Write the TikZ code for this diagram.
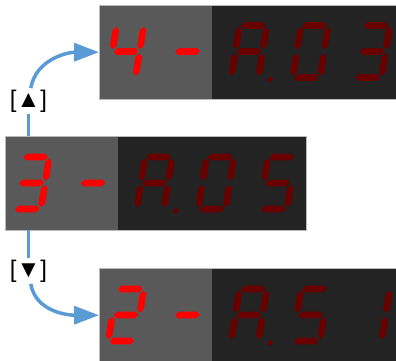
\documentclass[tikz,border=0pt]{standalone}
\usepackage{fontspec}
\setmainfont{Liberation Sans}
\usetikzlibrary{arrows.meta,positioning}
\definecolor{rojoon}{HTML}{FF0000}
\definecolor{rojooff}{HTML}{680000}
\definecolor{panelgris}{HTML}{595959}
\definecolor{panelnegro}{HTML}{232323}
\definecolor{borde}{HTML}{B9B9B9}
\definecolor{azulflecha}{HTML}{5B9BD5}
\tikzset{
  claro/.style={fill=panelgris,inner sep=0pt,minimum width=113pt,minimum height=94pt,anchor=north west},
  oscuro/.style={fill=panelnegro,inner sep=0pt,minimum height=94pt},
  marco/.style={draw=borde,line width=0.8pt},
  linea/.style={draw=azulflecha,line width=3.5pt},
  flecha/.style={draw=azulflecha,line width=3.5pt,-{Triangle[length=25pt,width=18pt]}},
  etiqueta/.style={font=\fontsize{24}{28}\selectfont,inner sep=1.5pt},
  hseg/.pic={\fill (-12.3,0) -- (-9,-3.3) -- (9,-3.3) -- (12.3,0) -- (9,3.3) -- (-9,3.3) -- cycle;},
  vseg/.pic={\fill (0,-24.6) -- (3.3,-21.3) -- (3.3,-5.7) -- (0,-2.4) -- (-3.3,-5.7) -- (-3.3,-21.3) -- cycle;},
}
\newcommand{\sega}{\pic at (0,-26) {hseg};}
\newcommand{\segb}{\pic at (13.6,0) {vseg};}
\newcommand{\segc}{\pic at (13.6,26.5) {vseg};}
\newcommand{\segd}{\pic at (0,26) {hseg};}
\newcommand{\sege}{\pic at (-13.6,26.5) {vseg};}
\newcommand{\segf}{\pic at (-13.6,0) {vseg};}
\newcommand{\segg}{\pic at (0,0) {hseg};}
\newcommand{\segp}{\fill (25.8,28) circle (2.6);}
\newcommand{\digito}[3]{%
  \begin{scope}[shift={#1},xslant=0.16,transform shape,color=#3]
    \foreach \s in {#2} {\csname seg\s\endcsname}
  \end{scope}}

\begin{document}
\begin{tikzpicture}[x=1pt,y=-1pt]
\useasboundingbox (0,0) rectangle (396,360);
\node[claro] (p1a) at (99,5) {};
\node[oscuro,minimum width=185pt,right=-1pt of p1a] (p1b) {};
\node[claro] (p2a) at (5,136) {};
\node[oscuro,minimum width=189pt,right=-1pt of p2a] (p2b) {};
\node[claro] (p3a) at (99,268) {};
\node[oscuro,minimum width=185pt,right=-1pt of p3a] (p3b) {};
\draw[marco] (p1a.north west) rectangle (p1b.south east);
\draw[marco] (p2a.north west) rectangle (p2b.south east);
\draw[marco] (p3a.north west) rectangle (p3b.south east);
\digito{(126,51.5)}{b,c,f,g}{rojoon}
\digito{(187.5,51.5)}{g}{rojoon}
\digito{(249,51.5)}{a,b,c,e,f,g,p}{rojooff}
\digito{(310.5,51.5)}{a,b,c,d,e,f}{rojooff}
\digito{(372,51.5)}{a,b,c,d,g}{rojooff}
\digito{(31.5,183)}{a,b,c,d,g}{rojoon}
\digito{(93,183)}{g}{rojoon}
\digito{(154.5,183)}{a,b,c,e,f,g,p}{rojooff}
\digito{(216,183)}{a,b,c,d,e,f}{rojooff}
\digito{(277.5,183)}{a,c,d,f,g}{rojooff}
\digito{(126,315)}{a,b,d,e,g}{rojoon}
\digito{(187.5,315)}{g}{rojoon}
\digito{(249,315)}{a,b,c,e,f,g,p}{rojooff}
\digito{(310.5,315)}{a,c,d,f,g}{rojooff}
\digito{(372,315)}{b,c}{rojooff}
\coordinate (salida1) at (28.5,136);
\coordinate (salida2) at (28.5,230);
\node[etiqueta] (arriba) at (28.5,101) {[▲]};
\node[etiqueta] (abajo) at (28.5,271) {[▼]};
\draw[linea] (salida1) -- (arriba);
\draw[flecha] (arriba) to[out=80,in=180] (p1a.west);
\draw[linea] (salida2) -- (abajo);
\draw[flecha] (abajo) to[out=-80,in=180] (p3a.west);
\end{tikzpicture}
\end{document}
